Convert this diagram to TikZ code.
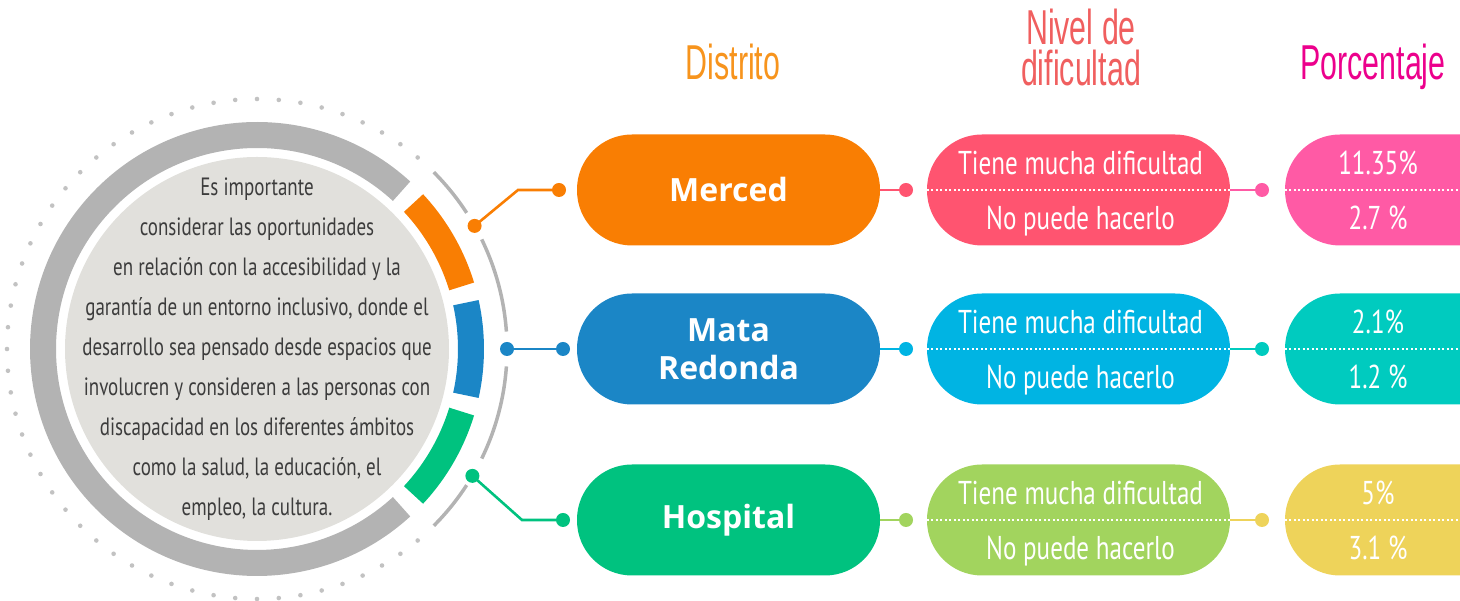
\documentclass[tikz,border=0pt]{standalone}
\usepackage{fontspec}
\newfontfamily\condfont[FakeStretch=0.76]{PT Sans}
\newfontfamily\headfont[FakeStretch=0.62]{Liberation Sans}
\newfontfamily\distfont{Open Sans}
\usetikzlibrary{calc}
\definecolor{dorange}{HTML}{F97E03}
\definecolor{dblue}{HTML}{1B86C6}
\definecolor{dgreen}{HTML}{00C27F}
\definecolor{npink}{HTML}{FF5470}
\definecolor{ncyan}{HTML}{00B4E3}
\definecolor{nlime}{HTML}{A2D45E}
\definecolor{ppink}{HTML}{FF5AA5}
\definecolor{pteal}{HTML}{00CBBF}
\definecolor{pyellow}{HTML}{EED35A}
\definecolor{horange}{HTML}{F7941D}
\definecolor{hred}{HTML}{F05F5F}
\definecolor{hmag}{HTML}{EC008C}
\definecolor{ringgray}{HTML}{B3B3B3}
\definecolor{diskgray}{HTML}{E1E0DC}
\definecolor{dotgray}{HTML}{C2C2C2}
\definecolor{textgray}{HTML}{3C3C3C}
\tikzset{
  pill/.style={rounded corners=55, minimum width=303, minimum height=111, inner sep=0, text=white, align=center},
  dotnode/.style={circle, inner sep=0, minimum size=14},
  conn/.style={line width=2.6},
  seg/.style={line width=26},
  pilltext/.style={anchor=base, text=white, inner sep=0, font=\condfont\fontsize{33}{36}\selectfont},
  headtext/.style={anchor=base, inner sep=0, align=center, font=\headfont\fontsize{49}{41}\selectfont},
  distname/.style={font=\distfont\bfseries\fontsize{32}{38}\selectfont},
  midline/.style={white, line width=1.3, dash pattern=on 2 off 2.5}
}
\begin{document}
\begin{tikzpicture}[x=1pt,y=1pt]
\useasboundingbox (0,0) rectangle (1460,601);
\clip (0,0) rectangle (1460,601);
\coordinate (c) at (257,252);
% dotted outer circle
\foreach \a in {50,55,...,310} \fill[dotgray] ($(c)+(\a:250)$) circle (2.3);
% thin arcs on the right
\foreach \s/\e in {45/33, 26/4, -4/-26, -33/-45}
  \draw[ringgray, line width=3.5] ($(c)+(\s:250)$) arc[start angle=\s, end angle=\e, radius=250];
% thick ring
\draw[ringgray, seg] ($(c)+(47.5:214)$) arc[start angle=47.5, end angle=312.5, radius=214];
\draw[dorange, seg] ($(c)+(43:214)$) arc[start angle=43, end angle=17, radius=214];
\draw[dblue, seg] ($(c)+(12.5:214)$) arc[start angle=12.5, end angle=-12.5, radius=214];
\draw[dgreen, seg] ($(c)+(-17:214)$) arc[start angle=-17, end angle=-43, radius=214];
% disk
\fill[diskgray] (c) circle (192);
\node[align=center, text=textgray, inner sep=0, font=\condfont\fontsize{25}{40}\selectfont] (txt) at (c) {Es importante\\
considerar las oportunidades\\
en relación con la accesibilidad y la\\
garantía de un entorno inclusivo, donde el\\
desarrollo sea pensado desde espacios que\\
involucren y consideren a las personas con\\
discapacidad en los diferentes ámbitos\\
como la salud, la educación, el\\
empleo, la cultura.};

% headers
\node[headtext, text=horange] (h1) at (733,521) {Distrito};
\node[headtext, text=hred, anchor=north] (h2) at (1081,592) {Nivel de\\dificultad};
\node[headtext, text=hmag] (h3) at (1373,521) {Porcentaje};

% district pills
\node[pill, fill=dorange, distname] (d1) at (728.5,411) {Merced};
\node[pill, fill=dblue, distname] (d2) at (728.5,252) {Mata\\Redonda};
\node[pill, fill=dgreen, distname] (d3) at (728.5,81) {Hospital};

% level pills
\node[pill, fill=npink] (n1) at (1078.5,411) {};
\node[pill, fill=ncyan] (n2) at (1078.5,252) {};
\node[pill, fill=nlime] (n3) at (1078.5,81) {};
% percent pills
\node[pill, fill=ppink] (p1) at (1436.5,411) {};
\node[pill, fill=pteal] (p2) at (1436.5,252) {};
\node[pill, fill=pyellow] (p3) at (1436.5,81) {};

\foreach \r in {n1,n2,n3,p1,p2,p3} \draw[midline] (\r.west) -- (\r.east);

\foreach \r/\lbl in {n1/a,n2/b,n3/c}{
  \node[pilltext] (t\lbl1) at ($(\r)+(2,15)$) {Tiene mucha dificultad};
  \node[pilltext] (t\lbl2) at ($(\r)+(2,-40)$) {No puede hacerlo};
}
\node[pilltext] (q11) at (1378,426) {11.35\%};
\node[pilltext] (q12) at (1378,371) {2.7 \%};
\node[pilltext] (q21) at (1378,267) {2.1\%};
\node[pilltext] (q22) at (1378,212) {1.2 \%};
\node[pilltext] (q31) at (1378,96) {5\%};
\node[pilltext] (q32) at (1378,41) {3.1 \%};

% left connectors
\node[dotnode, fill=dorange] (oa) at ($(c)+(29.5:250)$) {};
\node[dotnode, fill=dorange] (ob) at (559,411) {};
\draw[conn, dorange] (oa.center) -- (518,411) -- (ob.center);
\node[dotnode, fill=dblue] (ba) at ($(c)+(0:250)$) {};
\node[dotnode, fill=dblue] (bb) at (563,252) {};
\draw[conn, dblue] (ba.center) -- (bb.center);
\node[dotnode, fill=dgreen] (ga) at ($(c)+(-30.5:250)$) {};
\node[dotnode, fill=dgreen] (gb) at (563,81) {};
\draw[conn, dgreen] (ga.center) -- (522,81) -- (gb.center);

% right connectors
\foreach \d/\n/\p/\cn/\cp/\y in {d1/n1/p1/npink/ppink/411, d2/n2/p2/ncyan/pteal/252, d3/n3/p3/nlime/pyellow/81}{
  \node[dotnode, fill=\cn] (x\d) at (906,\y) {};
  \draw[conn, \cn] (\d.east) -- (x\d.center);
  \node[dotnode, fill=\cp] (y\d) at (1262,\y) {};
  \draw[conn, \cp] (\n.east) -- (y\d.center);
}
\end{tikzpicture}
\end{document}
